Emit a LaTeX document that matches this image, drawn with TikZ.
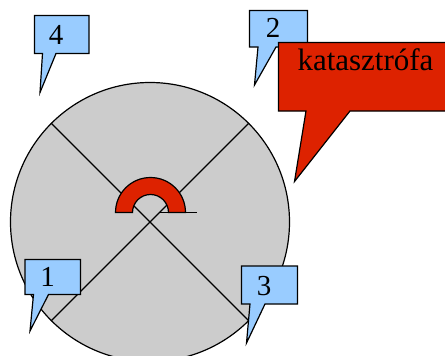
\documentclass[tikz,border=0pt]{standalone}
\usepackage{fontspec}
\setmainfont{Liberation Serif}
\definecolor{callblue}{HTML}{99CCFF}
\definecolor{catred}{HTML}{DD2200}
\definecolor{wheelgray}{HTML}{CCCCCC}
\tikzset{
  outl/.style={draw=black, line width=1.2pt, line join=miter},
  bluecall/.style={outl, fill=callblue},
  redcall/.style={outl, fill=catred},
  lbl/.style={font=\fontsize{29}{29}\selectfont, inner sep=0pt, anchor=base},
}
\begin{document}
\begin{tikzpicture}[x=1pt,y=-1pt]
\useasboundingbox (0,0) rectangle (445,356);
\clip (0,0) rectangle (445,356);
% wheel
\node[circle, outl, fill=wheelgray, minimum size=279pt, inner sep=0pt] (wheel) at (150,222) {};
\draw[line width=1.2pt] (wheel.135) -- (wheel.-45);
\draw[line width=1.2pt] (wheel.45) -- (wheel.-135);
% half annulus
\draw[redcall] (115.5,212.5) arc[start angle=180, end angle=360, radius=35] -- (168.5,212.5) arc[start angle=360, end angle=180, radius=18] -- cycle;
\coordinate (baseA) at (160,212.5);
\coordinate (baseB) at (197,212.5);
\draw[line width=1.2pt] (baseA) -- (baseB);
% callout 1
\draw[bluecall] (25,259.5) -- (80.5,259.5) -- (80.5,294.5) -- (48.5,294.5) -- (30,331) -- (33.5,294.5) -- (25,294.5) -- cycle;
\node[lbl] (n1) at (47.5,286) {1};
% callout 3
\draw[bluecall] (241.5,266) -- (297.5,266) -- (297.5,304) -- (265,304) -- (246.5,343) -- (250,304) -- (241.5,304) -- cycle;
\node[lbl] (n3) at (264,295) {3};
% callout 4
\draw[bluecall] (34.5,15.5) -- (89,15.5) -- (89,53.5) -- (56,53.5) -- (40,92.5) -- (42.5,53.5) -- (34.5,53.5) -- cycle;
\node[lbl] (n4) at (56,44) {4};
% callout 2
\draw[bluecall] (249.5,10.5) -- (307.5,10.5) -- (307.5,47) -- (276,47) -- (254.5,85) -- (258,47) -- (249.5,47) -- cycle;
\node[lbl] (n2) at (273,37.5) {2};
% red callout
\draw[redcall] (278.5,42.5) -- (450,42.5) -- (450,111) -- (350,111) -- (294.5,181.5) -- (306,111) -- (278.5,111) -- cycle;
\node[lbl, font=\fontsize{31}{31}\selectfont] (kat) at (365.5,70.5) {katasztrófa};
\end{tikzpicture}
\end{document}
